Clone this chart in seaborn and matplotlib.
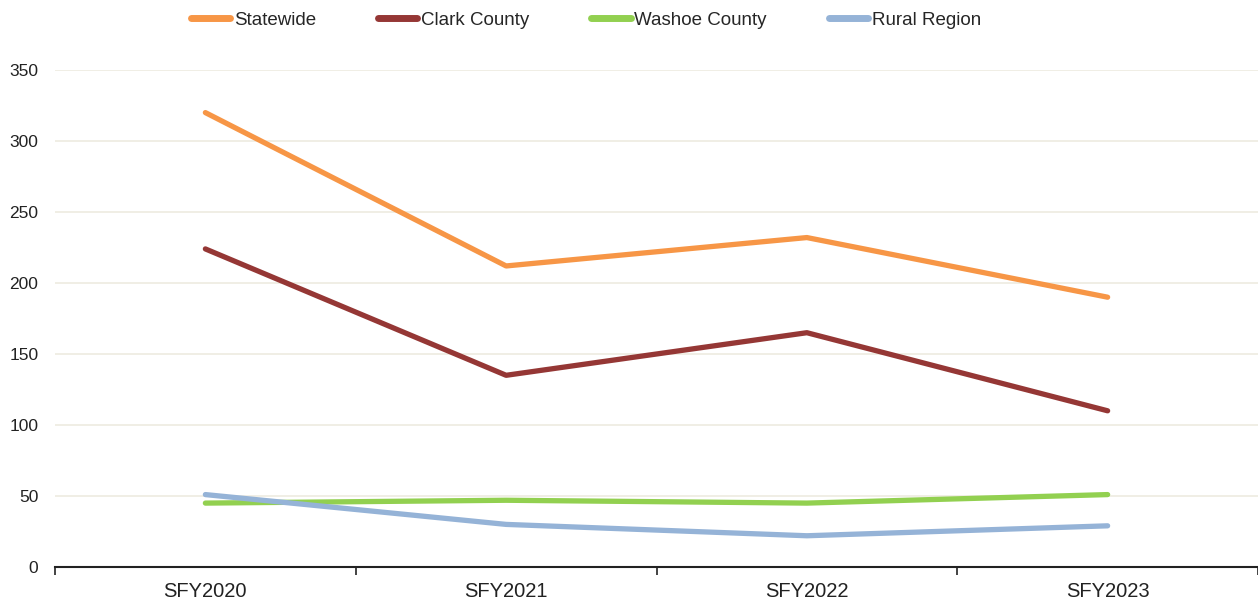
import matplotlib
matplotlib.use("Agg")
import matplotlib.pyplot as plt
import seaborn as sns
import pandas as pd
from matplotlib.lines import Line2D

years = ["SFY2020", "SFY2021", "SFY2022", "SFY2023"]
statewide = [320, 212, 232, 190]
clark = [224, 135, 165, 110]
washoe = [45, 47, 45, 51]
rural = [51, 30, 22, 29]
series_names = ["Statewide", "Clark County", "Washoe County", "Rural Region"]
colors = ["#F79646", "#953735", "#92D050", "#95B3D7"]

df = pd.concat([
    pd.DataFrame({"year": years, "value": vals, "series": name})
    for name, vals in zip(series_names, [statewide, clark, washoe, rural])
])
df["x"] = df["year"].map({y: i for i, y in enumerate(years)})

sns.set_theme(style="white")
plt.rcParams["font.family"] = ["Liberation Sans", "DejaVu Sans"]

fig = plt.figure(figsize=(12.58, 6.04), dpi=100)
ax = fig.add_axes([55 / 1258, 37 / 604, 1 - 55 / 1258, (567 - 70) / 604])

sns.lineplot(data=df, x="x", y="value", hue="series", hue_order=series_names,
             palette=colors, linewidth=3.8, ax=ax, legend=False,
             solid_capstyle="round")

ax.set_xlim(-0.5, 3.5)
ax.set_ylim(0, 350)
ax.set_yticks(range(0, 351, 50))
ax.set_xticks(range(len(years)))
ax.set_xticklabels(years)
ax.set_xticks([-0.5, 0.5, 1.5, 2.5, 3.5], minor=True)
ax.tick_params(axis="x", which="major", length=0, labelsize=14.5, pad=11, colors="#222222")
ax.tick_params(axis="x", which="minor", length=6, width=1.2, direction="out", color="#222222", bottom=True)
ax.tick_params(axis="y", length=0, labelsize=12.5, pad=12, colors="#222222")
ax.set_xlabel("")
ax.set_ylabel("")
ax.yaxis.grid(True, color="#EEEBE0", linewidth=1.2)
ax.set_axisbelow(True)
for s in ["left", "right", "top"]:
    ax.spines[s].set_visible(False)
ax.spines["bottom"].set_color("#222222")
ax.spines["bottom"].set_linewidth(1.5)
ax.spines["bottom"].set_zorder(5)

handles = [Line2D([0], [0], color=c, linewidth=5, solid_capstyle="round") for c in colors]
fig.legend(handles, series_names, loc="center", bbox_to_anchor=(586 / 1258, 1 - 20 / 604),
           ncol=4, frameon=False, handlelength=2.1, handletextpad=0.2, columnspacing=3.3,
           prop={"family": ["Liberation Sans", "DejaVu Sans"], "size": 13.5})

fig.savefig("out.png", dpi=100)
